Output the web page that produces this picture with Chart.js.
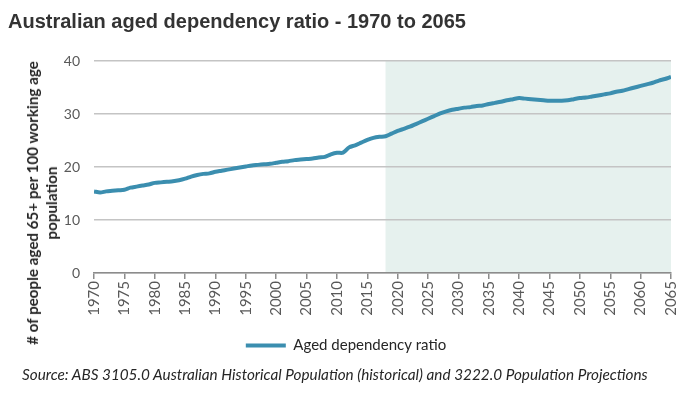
<!DOCTYPE html>
<html>
<head>
<meta charset="utf-8">
<script src="https://cdn.jsdelivr.net/npm/chart.js@4"></script>
<style>
  html, body { margin: 0; padding: 0; background: #ffffff; }
  #wrap { position: relative; width: 684px; height: 396px; overflow: hidden; }
  #c { position: absolute; left: 0; top: 0; }
  #ytitle {
    position: absolute; left: 42px; top: 203px;
    transform: translate(-50%, -50%) rotate(-90deg);
    font-family: Lato, "Open Sans", sans-serif; font-weight: bold; font-size: 15.2px;
    color: #262626; text-align: center; white-space: nowrap; line-height: 19px;
  }
  #source {
    position: absolute; left: 22px; top: 365px;
    font-family: Lato, "Open Sans", sans-serif; font-style: italic; font-size: 15.3px;
    color: #262626; white-space: nowrap;
  }
</style>
</head>
<body>
<div id="wrap">
  <canvas id="c" width="684" height="396"></canvas>
  <div id="ytitle"># of people aged 65+ per 100 working age<br>population</div>
  <div id="source">Source: ABS 3105.0 Australian Historical Population (historical) and 3222.0 Population Projections</div>
</div>
<script>
const chartTitle = "Australian aged dependency ratio - 1970 to 2065";
const seriesName = "Aged dependency ratio";
const years = [];
for (let y = 1970; y <= 2065; y++) years.push(y);
const agedRatio = [
  15.4, 15.2, 15.4, 15.5, 15.6, 15.7, 16.1, 16.3, 16.5, 16.7,
  17.0, 17.1, 17.2, 17.3, 17.5, 17.8, 18.2, 18.5, 18.7, 18.8,
  19.1, 19.3, 19.5, 19.7, 19.9, 20.1, 20.3, 20.4, 20.5, 20.6,
  20.8, 21.0, 21.1, 21.3, 21.4, 21.5, 21.6, 21.8, 21.9, 22.4,
  22.7, 22.7, 23.7, 24.1, 24.6, 25.1, 25.5, 25.7, 25.8, 26.3,
  26.8, 27.2, 27.6, 28.1, 28.6, 29.1, 29.6, 30.1, 30.5, 30.8,
  31.0, 31.2, 31.3, 31.5, 31.6, 31.9, 32.1, 32.3, 32.6, 32.8,
  33.0, 32.9, 32.8, 32.7, 32.6, 32.5, 32.5, 32.5, 32.6, 32.8,
  33.0, 33.1, 33.3, 33.5, 33.7, 33.9, 34.2, 34.4, 34.7, 35.0,
  35.3, 35.6, 35.9, 36.3, 36.6, 37.0
];
const projectionStart = 2018;
const projectionEnd = 2065;
const yTicks = [0, 10, 20, 30, 40];

const lineColor = '#3B8EAF';

const shadePlugin = {
  id: 'projectionShade',
  beforeDraw(chart) {
    const { ctx, chartArea, scales } = chart;
    const x0 = scales.x.getPixelForValue(projectionStart);
    const x1 = scales.x.getPixelForValue(projectionEnd);
    ctx.save();
    ctx.fillStyle = '#E6F1EE';
    ctx.fillRect(x0, chartArea.top, x1 - x0, chartArea.bottom - chartArea.top);
    ctx.restore();
  }
};

new Chart(document.getElementById('c'), {
  type: 'line',
  data: {
    datasets: [{
      label: seriesName,
      data: years.map((y, i) => ({ x: y, y: agedRatio[i] })),
      borderColor: lineColor,
      backgroundColor: lineColor,
      borderWidth: 4,
      pointRadius: 0,
      tension: 0.3,
      fill: false
    }]
  },
  options: {
    responsive: false,
    animation: false,
    layout: { padding: { left: 8, right: 0, top: 0, bottom: 33 } },
    plugins: {
      title: {
        display: true, text: chartTitle, align: 'start',
        color: '#333333',
        font: { family: '"Liberation Sans", Arial, sans-serif', size: 20, weight: 'bold' },
        padding: { top: 10, bottom: 27 }
      },
      legend: {
        position: 'bottom',
        labels: {
          boxWidth: 40, boxHeight: 4, padding: 10,
          color: '#262626',
          font: { family: 'Lato, "Open Sans", sans-serif', size: 15 },
          generateLabels(chart) {
            return chart.data.datasets.map((ds, i) => ({
              text: ds.label, fillStyle: ds.borderColor, strokeStyle: ds.borderColor,
              lineWidth: 0, datasetIndex: i, hidden: false, fontColor: '#262626'
            }));
          }
        }
      },
      tooltip: { enabled: false }
    },
    scales: {
      x: {
        type: 'linear', min: 1970, max: 2065,
        afterBuildTicks(s) { s.ticks = years.filter(y => y % 5 === 0).map(v => ({ value: v })); },
        ticks: {
          autoSkip: false, maxRotation: 90, minRotation: 90,
          color: '#595959', padding: 2,
          font: { family: 'Lato, "Open Sans", sans-serif', size: 15 },
          callback: v => String(v)
        },
        grid: { drawOnChartArea: false, drawTicks: true, tickLength: 6, color: '#8C8C8C', lineWidth: 1.5 },
        border: { display: true, color: '#8C8C8C', width: 1.5 },
        afterFit(s) { s.height = 55; s.paddingRight = 13; s.paddingLeft = 0; }
      },
      y: {
        min: 0, max: 40,
        afterBuildTicks(s) { s.ticks = yTicks.map(v => ({ value: v })); },
        ticks: {
          color: '#595959', padding: 14,
          font: { family: 'Lato, "Open Sans", sans-serif', size: 14 }
        },
        grid: { drawTicks: false, color: '#C4C4C4', lineWidth: 1.5 },
        border: { display: false },
        afterFit(s) { s.width = 86; }
      }
    }
  },
  plugins: [shadePlugin]
});
</script>
</body>
</html>
